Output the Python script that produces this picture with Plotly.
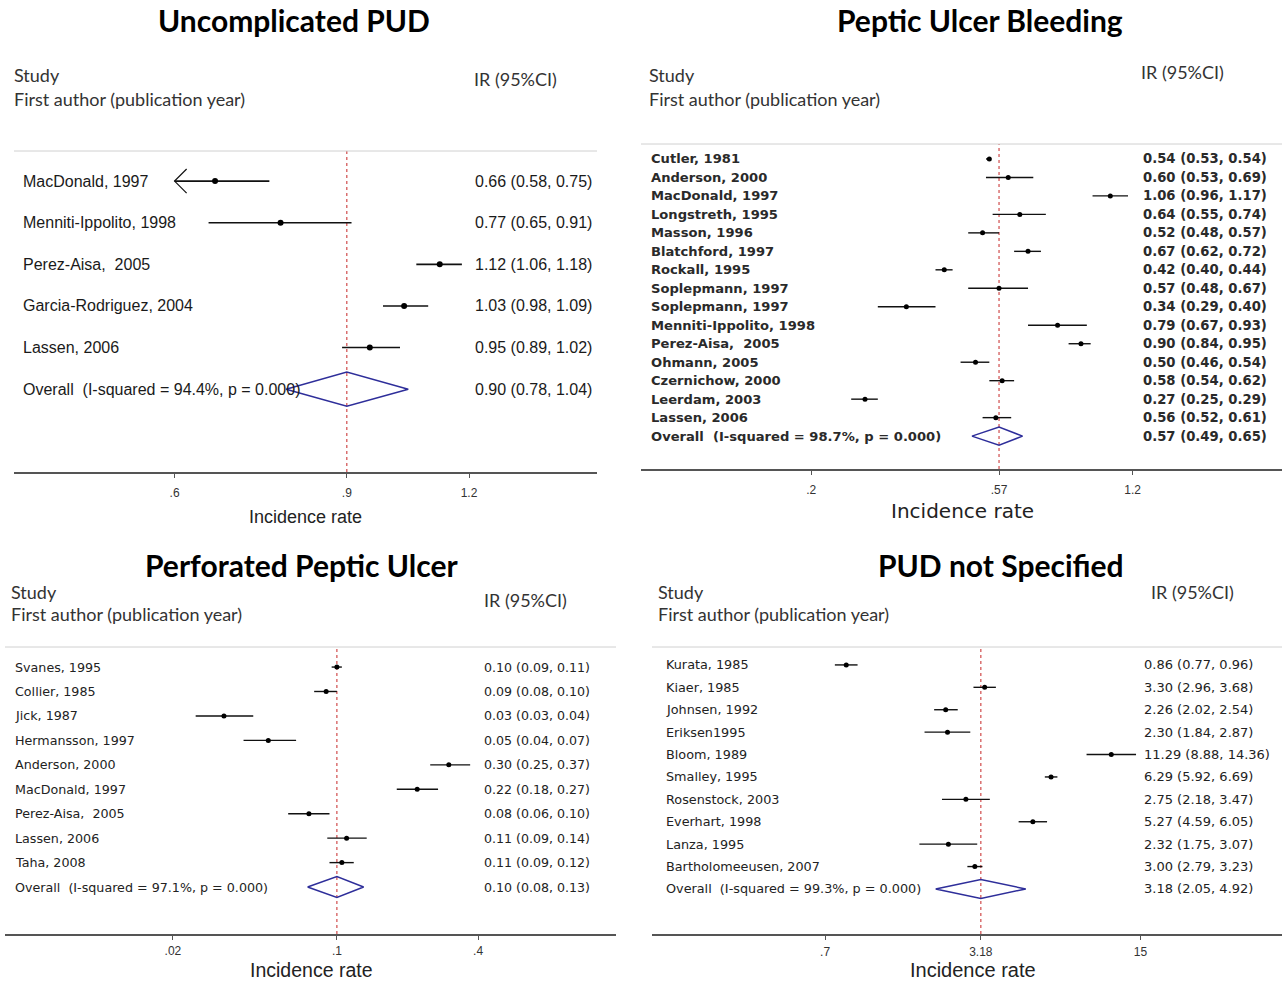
import plotly.graph_objects as go

W, H = 1282, 982

# ---------------- DATA ----------------
# Panel 1: Uncomplicated PUD
p1_title = "Uncomplicated PUD"
p1_studies = ["MacDonald, 1997", "Menniti-Ippolito, 1998", "Perez-Aisa,  2005",
              "Garcia-Rodriguez, 2004", "Lassen, 2006"]
p1_ir = [0.66, 0.77, 1.12, 1.03, 0.95]
p1_lo = [0.58, 0.65, 1.06, 0.98, 0.89]
p1_hi = [0.75, 0.91, 1.18, 1.09, 1.02]
p1_text = ["0.66 (0.58, 0.75)", "0.77 (0.65, 0.91)", "1.12 (1.06, 1.18)",
           "1.03 (0.98, 1.09)", "0.95 (0.89, 1.02)"]
p1_overall_label = "Overall  (I-squared = 94.4%, p = 0.000)"
p1_overall = (0.90, 0.78, 1.04)
p1_overall_text = "0.90 (0.78, 1.04)"
p1_tickvals = [0.6, 0.9, 1.2]
p1_ticktext = [".6", ".9", "1.2"]
p1_clip = 0.6  # lower scale limit (CI beyond it drawn as arrow)

# Panel 2: Peptic Ulcer Bleeding
p2_title = "Peptic Ulcer Bleeding"
p2_studies = ["Cutler, 1981", "Anderson, 2000", "MacDonald, 1997", "Longstreth, 1995",
              "Masson, 1996", "Blatchford, 1997", "Rockall, 1995", "Soplepmann, 1997",
              "Soplepmann, 1997", "Menniti-Ippolito, 1998", "Perez-Aisa,  2005",
              "Ohmann, 2005", "Czernichow, 2000", "Leerdam, 2003", "Lassen, 2006"]
p2_ir = [0.54, 0.60, 1.06, 0.64, 0.52, 0.67, 0.42, 0.57, 0.34, 0.79, 0.90, 0.50, 0.58, 0.27, 0.56]
p2_lo = [0.53, 0.53, 0.96, 0.55, 0.48, 0.62, 0.40, 0.48, 0.29, 0.67, 0.84, 0.46, 0.54, 0.25, 0.52]
p2_hi = [0.54, 0.69, 1.17, 0.74, 0.57, 0.72, 0.44, 0.67, 0.40, 0.93, 0.95, 0.54, 0.62, 0.29, 0.61]
p2_text = ["0.54 (0.53, 0.54)", "0.60 (0.53, 0.69)", "1.06 (0.96, 1.17)", "0.64 (0.55, 0.74)",
           "0.52 (0.48, 0.57)", "0.67 (0.62, 0.72)", "0.42 (0.40, 0.44)", "0.57 (0.48, 0.67)",
           "0.34 (0.29, 0.40)", "0.79 (0.67, 0.93)", "0.90 (0.84, 0.95)", "0.50 (0.46, 0.54)",
           "0.58 (0.54, 0.62)", "0.27 (0.25, 0.29)", "0.56 (0.52, 0.61)"]
p2_overall_label = "Overall  (I-squared = 98.7%, p = 0.000)"
p2_overall = (0.57, 0.49, 0.65)
p2_overall_text = "0.57 (0.49, 0.65)"
p2_tickvals = [0.2, 0.57, 1.2]
p2_ticktext = [".2", ".57", "1.2"]

# Panel 3: Perforated Peptic Ulcer
p3_title = "Perforated Peptic Ulcer"
p3_studies = ["Svanes, 1995", "Collier, 1985", "Jick, 1987", "Hermansson, 1997",
              "Anderson, 2000", "MacDonald, 1997", "Perez-Aisa,  2005", "Lassen, 2006",
              "Taha, 2008"]
p3_ir = [0.100, 0.090, 0.033, 0.051, 0.30, 0.22, 0.076, 0.110, 0.105]
p3_lo = [0.095, 0.080, 0.025, 0.040, 0.25, 0.18, 0.062, 0.091, 0.093]
p3_hi = [0.105, 0.100, 0.044, 0.067, 0.37, 0.27, 0.093, 0.134, 0.118]
p3_text = ["0.10 (0.09, 0.11)", "0.09 (0.08, 0.10)", "0.03 (0.03, 0.04)", "0.05 (0.04, 0.07)",
           "0.30 (0.25, 0.37)", "0.22 (0.18, 0.27)", "0.08 (0.06, 0.10)", "0.11 (0.09, 0.14)",
           "0.11 (0.09, 0.12)"]
p3_overall_label = "Overall  (I-squared = 97.1%, p = 0.000)"
p3_overall = (0.10, 0.075, 0.13)
p3_overall_text = "0.10 (0.08, 0.13)"
p3_tickvals = [0.02, 0.1, 0.4]
p3_ticktext = [".02", ".1", ".4"]

# Panel 4: PUD not Specified
p4_title = "PUD not Specified"
p4_studies = ["Kurata, 1985", "Kiaer, 1985", "Johnsen, 1992", "Eriksen1995", "Bloom, 1989",
              "Smalley, 1995", "Rosenstock, 2003", "Everhart, 1998", "Lanza, 1995",
              "Bartholomeeusen, 2007"]
p4_ir = [0.86, 3.30, 2.26, 2.30, 11.29, 6.29, 2.75, 5.27, 2.32, 3.00]
p4_lo = [0.77, 2.96, 2.02, 1.84, 8.88, 5.92, 2.18, 4.59, 1.75, 2.79]
p4_hi = [0.96, 3.68, 2.54, 2.87, 14.36, 6.69, 3.47, 6.05, 3.07, 3.23]
p4_text = ["0.86 (0.77, 0.96)", "3.30 (2.96, 3.68)", "2.26 (2.02, 2.54)", "2.30 (1.84, 2.87)",
           "11.29 (8.88, 14.36)", "6.29 (5.92, 6.69)", "2.75 (2.18, 3.47)", "5.27 (4.59, 6.05)",
           "2.32 (1.75, 3.07)", "3.00 (2.79, 3.23)"]
p4_overall_label = "Overall  (I-squared = 99.3%, p = 0.000)"
p4_overall = (3.18, 2.05, 4.92)
p4_overall_text = "3.18 (2.05, 4.92)"
p4_tickvals = [0.7, 3.18, 15]
p4_ticktext = [".7", "3.18", "15"]

header_study = "Study"
header_author = "First author (publication year)"
header_ir = "IR (95%CI)"
axis_title = "Incidence rate"

# ---------------- LAYOUT / STYLE ----------------
def fx(x):
    return x / W

def fy(y):
    return 1 - y / H

panels = [
    dict(title=p1_title, studies=p1_studies, ir=p1_ir, lo=p1_lo, hi=p1_hi, text=p1_text,
         olab=p1_overall_label, ov=p1_overall, otext=p1_overall_text,
         tv=p1_tickvals, tt=p1_ticktext, clip=p1_clip,
         dom_x=(14, 597), dom_y=(151, 472), xr=(-0.386, 0.210), yr=(6.99, -0.723),
         lab_x=21, val_x=473, lab_font=dict(family="Liberation Sans", size=16, color="#1a1a1a"),
         val_font=dict(family="Liberation Sans", size=16, color="#1a1a1a"),
         title_xy=(294, 20), study_xy=(12, 75), author_xy=(12, 99), irh_xy=(472, 79),
         axt_xy=(305, 517), axt_font=dict(family="Liberation Sans", size=18, color="#222"),
         tick_font=dict(family="Liberation Sans", size=12, color="#333"),
         standoff=5, dh=0.41, lw=1.6, ms=6),
    dict(title=p2_title, studies=p2_studies, ir=p2_ir, lo=p2_lo, hi=p2_hi, text=p2_text,
         olab=p2_overall_label, ov=p2_overall, otext=p2_overall_text,
         tv=p2_tickvals, tt=p2_ticktext, clip=None,
         dom_x=(641, 1282), dom_y=(144, 469), xr=(-1.111, 0.441), yr=(16.78, -0.81),
         lab_x=649, val_x=1141,
         lab_font=dict(family="DejaVu Sans", size=13.1, color="#2a2a2a", weight=700),
         val_font=dict(family="DejaVu Sans", size=13.2, color="#2a2a2a", weight=700),
         title_xy=(980, 20), study_xy=(647, 75), author_xy=(647, 99), irh_xy=(1139, 72),
         axt_xy=(962, 511), axt_font=dict(family="DejaVu Sans", size=20, color="#222"),
         tick_font=dict(family="Liberation Sans", size=12, color="#333"),
         standoff=5, dh=0.49, lw=1.4, ms=5),
    dict(title=p3_title, studies=p3_studies, ir=p3_ir, lo=p3_lo, hi=p3_hi, text=p3_text,
         olab=p3_overall_label, ov=p3_overall, otext=p3_overall_text,
         tv=p3_tickvals, tt=p3_ticktext, clip=None,
         dom_x=(5, 616), dom_y=(647, 934), xr=(-2.415, 0.190), yr=(10.92, -0.82),
         lab_x=13, val_x=482, lab_font=dict(family="DejaVu Sans", size=12.7, color="#222"),
         val_font=dict(family="DejaVu Sans", size=12.6, color="#222"),
         title_xy=(302, 565), study_xy=(9, 592), author_xy=(9, 614), irh_xy=(482, 600),
         axt_xy=(311, 970), axt_font=dict(family="Liberation Sans", size=19.5, color="#222"),
         tick_font=dict(family="Liberation Sans", size=12, color="#333"),
         standoff=1, dh=0.43, lw=1.4, ms=5),
    dict(title=p4_title, studies=p4_studies, ir=p4_ir, lo=p4_lo, hi=p4_hi, text=p4_text,
         olab=p4_overall_label, ov=p4_overall, otext=p4_overall_text,
         tv=p4_tickvals, tt=p4_ticktext, clip=None,
         dom_x=(652, 1282), dom_y=(647, 934), xr=(-0.885, 1.773), yr=(12.01, -0.80),
         lab_x=664, val_x=1142, lab_font=dict(family="DejaVu Sans", size=12.8, color="#222"),
         val_font=dict(family="DejaVu Sans", size=13, color="#222"),
         title_xy=(1001, 565), study_xy=(656, 592), author_xy=(656, 614), irh_xy=(1149, 592),
         axt_xy=(973, 970), axt_font=dict(family="Liberation Sans", size=20, color="#222"),
         tick_font=dict(family="Liberation Sans", size=12, color="#333"),
         standoff=2, dh=0.42, lw=1.4, ms=5),
]

title_font = dict(family="Lato", size=30, color="#000", weight=700)
header_font = dict(family="Lato", size=18, color="#333")
RED = "#cc3b3b"
NAVY = "#2e2e9a"

fig = go.Figure()
annotations = []
shapes = []
layout_axes = {}

for i, p in enumerate(panels, start=1):
    xa = "x" if i == 1 else f"x{i}"
    ya = "y" if i == 1 else f"y{i}"
    xkey = "xaxis" if i == 1 else f"xaxis{i}"
    ykey = "yaxis" if i == 1 else f"yaxis{i}"
    n = len(p["studies"])
    rows = list(range(n))
    orow = n

    # CI lines (clipped at scale limit if needed)
    lx, ly = [], []
    arrows_x, arrows_y = [], []
    for r, lo, hi in zip(rows, p["lo"], p["hi"]):
        lo_draw = lo
        if p["clip"] is not None and lo < p["clip"]:
            lo_draw = p["clip"]
            arm = p["clip"] * 10 ** (12 / 974)
            arrows_x += [arm, p["clip"], arm, None]
            arrows_y += [r - 0.29, r, r + 0.29, None]
        lx += [lo_draw, hi, None]
        ly += [r, r, None]
    fig.add_trace(go.Scatter(x=lx, y=ly, mode="lines", xaxis=xa, yaxis=ya,
                             line=dict(color="#111", width=p["lw"]), hoverinfo="skip",
                             showlegend=False))
    if arrows_x:
        fig.add_trace(go.Scatter(x=arrows_x, y=arrows_y, mode="lines", xaxis=xa, yaxis=ya,
                                 line=dict(color="#111", width=1.2), hoverinfo="skip",
                                 showlegend=False))
    fig.add_trace(go.Scatter(x=p["ir"], y=rows, mode="markers", xaxis=xa, yaxis=ya,
                             marker=dict(color="#000", size=p["ms"], symbol="circle"),
                             showlegend=False))
    # overall diamond
    est, olo, ohi = p["ov"]
    fig.add_trace(go.Scatter(x=[olo, est, ohi, est, olo],
                             y=[orow, orow - p["dh"], orow, orow + p["dh"], orow],
                             mode="lines", xaxis=xa, yaxis=ya,
                             line=dict(color=NAVY, width=1.5), hoverinfo="skip",
                             showlegend=False))

    # axes
    layout_axes[xkey] = dict(
        type="log", range=list(p["xr"]), domain=[fx(p["dom_x"][0]), fx(p["dom_x"][1])],
        anchor=ya, showgrid=False, zeroline=False, showline=True, linecolor="#555",
        linewidth=2, ticks="outside", ticklen=4, tickwidth=1.2, tickcolor="#555",
        tickvals=p["tv"], ticktext=p["tt"], tickfont=p["tick_font"],
        ticklabelstandoff=p["standoff"], fixedrange=True)
    layout_axes[ykey] = dict(
        range=list(p["yr"]), domain=[fy(p["dom_y"][1]), fy(p["dom_y"][0])],
        anchor=xa, visible=False, showgrid=False, zeroline=False, fixedrange=True)

    # reference (overall) line and top rule
    shapes.append(dict(type="line", xref=xa, yref=f"{ya} domain", x0=est, x1=est, y0=0, y1=1,
                       line=dict(color=RED, width=1.1, dash="3px,3px"), layer="below"))
    shapes.append(dict(type="line", xref=f"{xa} domain", yref=f"{ya} domain", x0=0, x1=1,
                       y0=1, y1=1, line=dict(color="#d0d0d0", width=1)))

    # study labels and values
    for r, s, t in zip(rows, p["studies"], p["text"]):
        annotations.append(dict(x=fx(p["lab_x"]), xref="paper", y=r, yref=ya, text=s,
                                showarrow=False, xanchor="left", yanchor="middle",
                                font=p["lab_font"]))
        annotations.append(dict(x=fx(p["val_x"]), xref="paper", y=r, yref=ya, text=t,
                                showarrow=False, xanchor="left", yanchor="middle",
                                font=p["val_font"]))
    annotations.append(dict(x=fx(p["lab_x"]), xref="paper", y=orow, yref=ya, text=p["olab"],
                            showarrow=False, xanchor="left", yanchor="middle",
                            font=p["lab_font"]))
    annotations.append(dict(x=fx(p["val_x"]), xref="paper", y=orow, yref=ya, text=p["otext"],
                            showarrow=False, xanchor="left", yanchor="middle",
                            font=p["val_font"]))

    # titles and headers
    annotations.append(dict(x=fx(p["title_xy"][0]), y=fy(p["title_xy"][1]), xref="paper",
                            yref="paper", text=p["title"], showarrow=False, xanchor="center",
                            yanchor="middle", font=title_font))
    annotations.append(dict(x=fx(p["study_xy"][0]), y=fy(p["study_xy"][1]), xref="paper",
                            yref="paper", text=header_study, showarrow=False, xanchor="left",
                            yanchor="middle", font=header_font))
    annotations.append(dict(x=fx(p["author_xy"][0]), y=fy(p["author_xy"][1]), xref="paper",
                            yref="paper", text=header_author, showarrow=False, xanchor="left",
                            yanchor="middle", font=header_font))
    annotations.append(dict(x=fx(p["irh_xy"][0]), y=fy(p["irh_xy"][1]), xref="paper",
                            yref="paper", text=header_ir, showarrow=False, xanchor="left",
                            yanchor="middle", font=header_font))
    annotations.append(dict(x=fx(p["axt_xy"][0]), y=fy(p["axt_xy"][1]), xref="paper",
                            yref="paper", text=axis_title, showarrow=False, xanchor="center",
                            yanchor="middle", font=p["axt_font"]))

fig.update_layout(
    width=W, height=H, margin=dict(l=0, r=0, t=0, b=0),
    paper_bgcolor="white", plot_bgcolor="white",
    showlegend=False, annotations=annotations, shapes=shapes, **layout_axes)

fig.write_html("out.html", config={"displayModeBar": False},
               post_script="document.body.style.margin='0px';document.body.style.padding='0px';")
